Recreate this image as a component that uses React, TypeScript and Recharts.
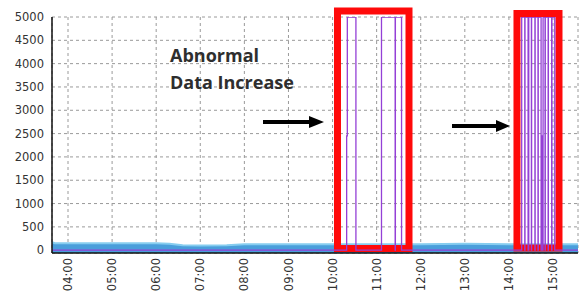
import React from "react";
import {
  ComposedChart,
  Area,
  Line,
  XAxis,
  YAxis,
  CartesianGrid,
  ReferenceArea,
} from "recharts";

// time axis in hours of the day
const hourTicks = [4, 5, 6, 7, 8, 9, 10, 11, 12, 13, 14, 15];
const valueTicks = [0, 500, 1000, 1500, 2000, 2500, 3000, 3500, 4000, 4500, 5000];
const xDomain = [3.637, 15.567];
const yDomain = [-60, 5000];

// blue series (normal traffic)
const blueTimes = [3.64, 3.7, 4.0, 5.0, 6.0, 6.3, 6.6, 7.0, 7.6, 8.0, 9.0, 10.0, 11.0, 12.0, 13.0, 14.0, 15.0, 15.57];
const blueValues = [170, 150, 150, 150, 150, 140, 105, 100, 105, 130, 130, 130, 130, 130, 140, 130, 130, 130];

// purple series (abnormal bursts), step values
const purpleTimes = [
  3.64, 10.32, 10.335, 10.53, 11.11, 11.42, 11.425, 11.565,
  14.29, 14.36, 14.365, 14.435, 14.44, 14.445, 14.45, 14.51, 14.515, 14.59, 14.595,
  14.66, 14.665, 14.73, 14.735, 14.75, 14.755, 14.77, 14.775, 14.82, 14.825, 14.89,
  14.895, 14.97, 14.975, 15.04, 15.57,
];
const purpleValues = [
  0, 2450, 5000, 0, 5000, 0, 5000, 0,
  5000, 0, 5000, 0, 2450, 0, 5000, 0, 5000, 0, 5000,
  0, 5000, 0, 2450, 0, 2450, 0, 5000, 0, 5000, 0,
  5000, 0, 5000, 0, 0,
];

// highlighted regions
const boxStart = [10.112, 14.183];
const boxEnd = [11.734, 15.136];
const boxTop = [5129, 5075];
const boxBottom = [37, 47];

const blueData = blueTimes.map((t, i) => ({ t, v: blueValues[i] }));
const purpleData = purpleTimes.map((t, i) => ({ t, v: purpleValues[i] }));

const fmtHour = (h: number) => `${String(h).padStart(2, "0")}:00`;

const XTick = ({ x, y, payload }: any) => (
  <text
    x={x}
    y={y - 3}
    transform={`rotate(-90 ${x} ${y - 3})`}
    textAnchor="end"
    dy="0.36em"
    fontSize={11.5}
    fontFamily="DejaVu Sans"
    fill="#333"
  >
    {fmtHour(payload.value)}
  </text>
);

export default function App() {
  return (
    <div style={{ position: "absolute", left: 0, top: 0, width: 584, height: 299, background: "#fff" }}>
      <ComposedChart width={584} height={299} margin={{ top: 17, right: 6, left: 0, bottom: 0 }}>
        <CartesianGrid strokeDasharray="3 3" stroke="#9a9a9a" />
        <XAxis
          dataKey="t"
          type="number"
          domain={xDomain}
          allowDataOverflow
          ticks={hourTicks}
          height={46}
          tickLine={false}
          axisLine={{ stroke: "#111", strokeWidth: 1.5 }}
          tick={<XTick />}
          interval={0}
        />
        <XAxis
          xAxisId="top"
          orientation="top"
          type="number"
          domain={xDomain}
          allowDataOverflow
          height={0}
          tick={false}
          tickLine={false}
          axisLine={{ stroke: "#111", strokeWidth: 1.2 }}
        />
        <YAxis
          type="number"
          domain={yDomain}
          allowDataOverflow
          ticks={valueTicks}
          width={52}
          tickLine={false}
          axisLine={{ stroke: "#111", strokeWidth: 1.5 }}
          interval={0}
          tick={{ fontSize: 11.5, fontFamily: "DejaVu Sans", fill: "#333" }}
        />
        <YAxis
          yAxisId="right"
          orientation="right"
          type="number"
          domain={yDomain}
          allowDataOverflow
          width={0}
          tick={false}
          tickLine={false}
          axisLine={{ stroke: "#111", strokeWidth: 1.2 }}
        />
        <Area
          data={blueData}
          dataKey="v"
          type="linear"
          baseValue="dataMin"
          fill="#4a9edb"
          fillOpacity={1}
          stroke="#86cdef"
          strokeWidth={2}
          isAnimationActive={false}
        />
        <Line
          data={purpleData}
          dataKey="v"
          type="stepAfter"
          stroke="#9440d6"
          strokeWidth={1.3}
          dot={false}
          isAnimationActive={false}
        />
        {boxStart.map((x1, i) => (
          <ReferenceArea
            key={i}
            x1={x1}
            x2={boxEnd[i]}
            y1={boxBottom[i]}
            y2={boxTop[i]}
            ifOverflow="visible"
            fill="none"
            fillOpacity={0}
            stroke="#ff0a0a"
            strokeWidth={7}
          />
        ))}
      </ComposedChart>
      <svg width={584} height={299} style={{ position: "absolute", left: 0, top: 0, pointerEvents: "none" }}>
        <g fontFamily="Open Sans" fontWeight={700} fontSize={18} fill="#2e2e2e">
          <text x={170} y={62}>Abnormal</text>
          <text x={170} y={89}>Data Increase</text>
        </g>
        <g fill="#000">
          <rect x={263} y={120} width={48} height={4} />
          <polygon points="309,116 324,122 309,128" />
          <rect x={452} y={124} width={46} height={4} />
          <polygon points="496,120 510,126 496,132" />
        </g>
      </svg>
    </div>
  );
}
